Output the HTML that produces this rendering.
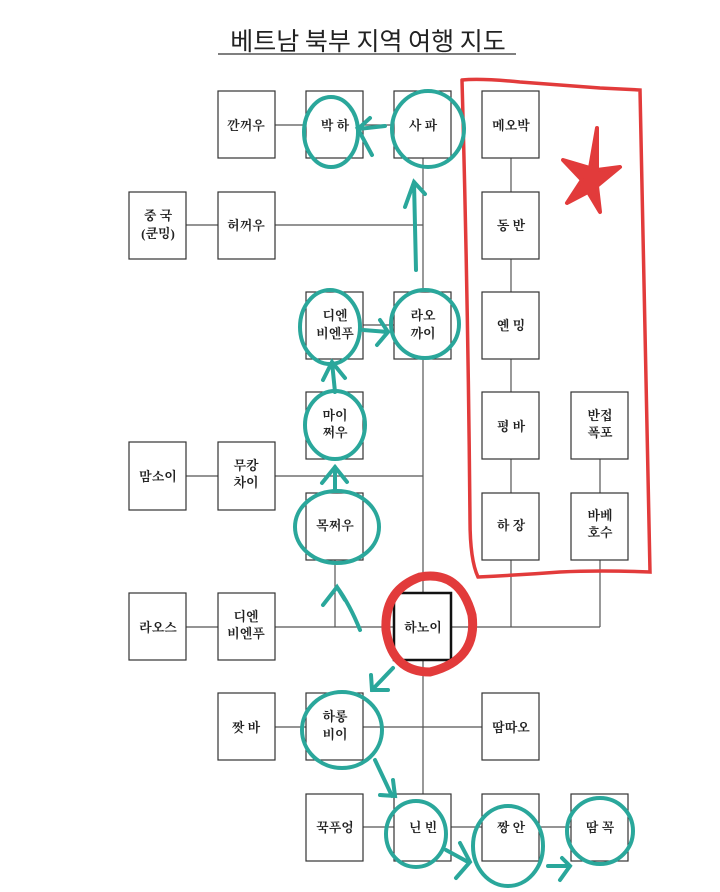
<!DOCTYPE html>
<html><head><meta charset="utf-8"><style>
html,body{margin:0;padding:0;background:#fff;}
svg{display:block}
text{font-family:"Liberation Serif","Noto Serif CJK SC","Noto Sans CJK KR",serif;font-weight:bold;font-size:13px;fill:#222;text-anchor:middle}
</style></head><body>
<svg width="720" height="892" viewBox="0 0 720 892" xmlns="http://www.w3.org/2000/svg">
<text x="368" y="50" style="font-size:25px;font-weight:normal;font-family:'Noto Sans CJK KR','WenQuanYi Zen Hei',sans-serif" fill="#222">베트남 북부 지역 여행 지도</text>
<line x1="218" y1="54" x2="516" y2="54" stroke="#555" stroke-width="1.5"/>
<g stroke="#555" stroke-width="1.2" fill="none">
<line x1="275" y1="125" x2="306" y2="125"/>
<line x1="363" y1="125" x2="394" y2="125"/>
<line x1="186" y1="225" x2="218" y2="225"/>
<line x1="275" y1="225" x2="423" y2="225"/>
<line x1="423" y1="158" x2="423" y2="292"/>
<line x1="363" y1="325" x2="394" y2="325"/>
<line x1="423" y1="359" x2="423" y2="593"/>
<line x1="186" y1="476" x2="218" y2="476"/>
<line x1="275" y1="476" x2="423" y2="476"/>
<line x1="335" y1="560" x2="335" y2="627"/>
<line x1="186" y1="627" x2="218" y2="627"/>
<line x1="275" y1="627" x2="394" y2="627"/>
<line x1="451" y1="627" x2="600" y2="627"/>
<line x1="511" y1="158" x2="511" y2="627"/>
<line x1="600" y1="459" x2="600" y2="627"/>
<line x1="423" y1="660" x2="423" y2="794"/>
<line x1="275" y1="727" x2="482" y2="727"/>
<line x1="363" y1="827" x2="571" y2="827"/>
</g>
<g stroke="#333" stroke-width="1.2" fill="#fff">
<rect x="218" y="91" width="57" height="67"/><rect x="306" y="91" width="57" height="67"/><rect x="394" y="91" width="57" height="67"/><rect x="482" y="91" width="57" height="67"/>
<rect x="129" y="192" width="57" height="67"/><rect x="218" y="192" width="57" height="67"/><rect x="482" y="192" width="57" height="67"/>
<rect x="306" y="292" width="57" height="67"/><rect x="394" y="292" width="57" height="67"/><rect x="482" y="292" width="57" height="67"/>
<rect x="306" y="392" width="57" height="67"/><rect x="482" y="392" width="57" height="67"/><rect x="571" y="392" width="57" height="67"/>
<rect x="129" y="442" width="57" height="68"/><rect x="218" y="442" width="57" height="68"/>
<rect x="306" y="493" width="57" height="67"/><rect x="482" y="493" width="57" height="67"/><rect x="571" y="493" width="57" height="67"/>
<rect x="129" y="593" width="57" height="67"/><rect x="218" y="593" width="57" height="67"/>
<rect x="394" y="593" width="57" height="67" stroke-width="2.5" stroke="#111"/>
<rect x="218" y="693" width="57" height="67"/><rect x="306" y="693" width="57" height="67"/><rect x="482" y="693" width="57" height="67"/>
<rect x="306" y="794" width="57" height="67"/><rect x="394" y="794" width="57" height="67"/><rect x="482" y="794" width="57" height="67"/><rect x="571" y="794" width="57" height="67"/>
</g>
<text x="246" y="130">깐꺼우</text><text x="335" y="130">박 하</text><text x="423" y="130">사 파</text><text x="511" y="130">메오박</text>
<text x="158" y="220">중 국</text><text x="158" y="238">(쿤밍)</text><text x="246" y="230">허꺼우</text><text x="511" y="230">동 반</text>
<text x="335" y="320">디엔</text><text x="335" y="338">비엔푸</text><text x="423" y="320">라오</text><text x="423" y="338">까이</text><text x="511" y="330">옌 밍</text>
<text x="335" y="420">마이</text><text x="335" y="437">쩌우</text><text x="511" y="431">평 바</text><text x="600" y="420">반접</text><text x="600" y="437">폭포</text>
<text x="158" y="481">맘소이</text><text x="246" y="470">무캉</text><text x="246" y="487">차이</text>
<text x="335" y="530">목쩌우</text><text x="511" y="530">하 장</text><text x="600" y="520">바베</text><text x="600" y="537">호수</text>
<text x="158" y="632">라오스</text><text x="246" y="621">디엔</text><text x="246" y="638">비엔푸</text><text x="423" y="632">하노이</text>
<text x="246" y="732">짯 바</text><text x="335" y="721">하롱</text><text x="335" y="739">비이</text><text x="511" y="732">땀따오</text>
<text x="335" y="832">꾹푸엉</text><text x="423" y="832">닌 빈</text><text x="511" y="832">짱 안</text><text x="600" y="832">땀 꼭</text>
<g stroke="#e23b3b" stroke-width="3.5" fill="none" stroke-linecap="round">
<path d="M462 80 Q480 78 520 82 Q560 85 600 88 L640 90 Q645 300 650 572 Q600 570 560 572 Q520 575 478 577 Q470 560 470 520 Q468 300 462 80"/>
</g>
<path d="M597 128 L590 168 L563 160 L582 180 L567 203 L588 192 L600 212 L597 186 L620 167 L597 170 Z" fill="#e23b3b" stroke="#e23b3b" stroke-width="4" stroke-linejoin="round"/>
<path d="M420 577 Q460 570 472 615 Q478 660 430 672 Q392 672 386 630 Q384 590 420 577 Z" fill="none" stroke="#e23b3b" stroke-width="9"/>
<g stroke="#2aa79b" stroke-width="4" fill="none" stroke-linecap="round">
<ellipse cx="331" cy="132" rx="27" ry="35"/>
<ellipse cx="428" cy="129" rx="36" ry="38"/>
<path d="M385 126 L358 129 L372 155 M358 129 L370 118"/>
<path d="M416 270 L414 182 M405 207 L414 182 L425 194"/>
<ellipse cx="330" cy="327" rx="30" ry="37"/>
<ellipse cx="425" cy="324" rx="34" ry="34"/>
<path d="M363 330 L388 332 M380 320 L388 332 L377 345"/>
<path d="M335 392 L332 362 M323 380 L332 362 L345 378"/>
<ellipse cx="335" cy="425" rx="30" ry="34"/>
<path d="M335 490 L335 467 M322 483 L335 467 L347 482"/>
<ellipse cx="337" cy="527" rx="42" ry="36"/>
<path d="M360 630 Q350 605 337 587 M323 605 L337 587 L345 600"/>
<path d="M393 668 L372 690 M371 675 L372 690 L388 690"/>
<ellipse cx="342" cy="730" rx="40" ry="38"/>
<path d="M375 760 L392 796 M380 795 L395 796 L393 780"/>
<ellipse cx="416" cy="834" rx="30" ry="33"/>
<path d="M446 850 L468 862 M460 843 L470 862 L456 878"/>
<ellipse cx="508" cy="846" rx="35" ry="40"/>
<path d="M548 866 L570 866 M562 858 L570 866 L560 880"/>
<ellipse cx="600" cy="831" rx="33" ry="33"/>
</g>
</svg>
</body></html>
